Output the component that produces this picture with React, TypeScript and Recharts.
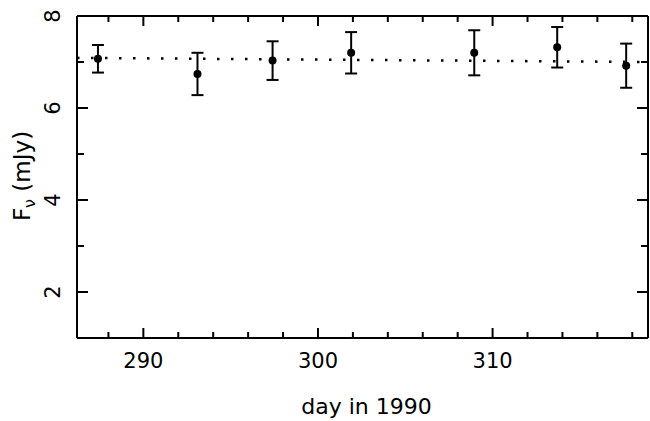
import React from 'react';
import { ComposedChart, Scatter, Line, XAxis, YAxis, ErrorBar } from 'recharts';

const days = [287.4, 293.1, 297.4, 301.9, 308.95, 313.7, 317.65];
const flux = [7.07, 6.74, 7.03, 7.2, 7.2, 7.32, 6.92];
const fluxErr = [0.3, 0.46, 0.42, 0.45, 0.49, 0.44, 0.48];
const fitDays = [286.2, 318.9];
const fitFlux = [7.09, 7.0];
const xTicks = [288, 290, 292, 294, 296, 298, 300, 302, 304, 306, 308, 310, 312, 314, 316, 318];
const xLabeled = [290, 300, 310];
const yTicks = [2, 3, 4, 5, 6, 7, 8];
const yLabeled = [2, 4, 6, 8];

const pointData = days.map((d, i) => ({ day: d, flux: flux[i], err: fluxErr[i] }));
const fitData = fitDays.map((d, i) => ({ day: d, fit: fitFlux[i] }));

const FONT = 'DejaVu Sans';

const BottomTick = (props: any) => {
  const { x, y, payload } = props;
  const major = xLabeled.includes(payload.value);
  return (
    <g>
      <line x1={x} x2={x} y1={y} y2={y - (major ? 10 : 6)} stroke="#000" strokeWidth={2} />
      {major && (
        <text x={x} y={y + 30} textAnchor="middle" fontSize={21} fontFamily={FONT} fill="#000">
          {payload.value}
        </text>
      )}
    </g>
  );
};

const TopTick = (props: any) => {
  const { x, y, payload } = props;
  const major = xLabeled.includes(payload.value);
  return <line x1={x} x2={x} y1={y} y2={y + (major ? 10 : 6)} stroke="#000" strokeWidth={2} />;
};

const LeftTick = (props: any) => {
  const { x, y, payload } = props;
  const major = yLabeled.includes(payload.value);
  return (
    <g>
      <line x1={x} x2={x + (major ? 11 : 7)} y1={y} y2={y} stroke="#000" strokeWidth={2} />
      {major && (
        <g transform={`translate(53 ${y}) rotate(-90)`}>
          <text x={0} y={7} textAnchor="middle" fontSize={21} fontFamily={FONT} fill="#000">
            {payload.value}
          </text>
        </g>
      )}
    </g>
  );
};

const RightTick = (props: any) => {
  const { x, y, payload } = props;
  const major = yLabeled.includes(payload.value);
  return <line x1={x} x2={x - (major ? 11 : 7)} y1={y} y2={y} stroke="#000" strokeWidth={2} />;
};

const PointShape = (props: any) => <circle cx={props.cx} cy={props.cy} r={4} fill="#000" />;

const XLabel = (props: any) => {
  const vb = props.viewBox || {};
  const cx = vb.x + vb.width / 2 + 4;
  return (
    <text x={cx} y={vb.y + 76} textAnchor="middle" fontSize={22} fontFamily={FONT} fill="#000">
      day in 1990
    </text>
  );
};

const YLabel = () => {
  const cy = 176;
  return (
    <g transform={`translate(22 ${cy}) rotate(-90)`}>
      <text x={0} y={8} textAnchor="middle" fontSize={23} fontFamily={FONT} fill="#000">
        F
        <tspan fontSize={16} dy={5}>ν</tspan>
        <tspan dy={-5}> (mJy)</tspan>
      </text>
    </g>
  );
};

export default function App() {
  const axisLine = { stroke: '#000', strokeWidth: 2 };
  return (
    <div style={{ position: 'absolute', left: 0, top: 0, background: '#fff' }}>
      <ComposedChart width={650} height={421} margin={{ top: 15, right: 1, bottom: 0, left: 0 }}>
        <XAxis
          xAxisId="b"
          dataKey="day"
          type="number"
          domain={[286.2, 318.9]}
          allowDataOverflow
          ticks={xTicks}
          interval={0}
          tickLine={false}
          tickSize={0}
          tickMargin={0}
          height={83}
          axisLine={axisLine}
          tick={BottomTick}
          label={{ content: XLabel }}
        />
        <XAxis
          xAxisId="t"
          orientation="top"
          dataKey="day"
          type="number"
          domain={[286.2, 318.9]}
          allowDataOverflow
          ticks={xTicks}
          interval={0}
          tickLine={false}
          tickSize={0}
          tickMargin={0}
          height={1}
          axisLine={axisLine}
          tick={TopTick}
        />
        <YAxis
          yAxisId="l"
          type="number"
          domain={[1, 8]}
          allowDataOverflow
          ticks={yTicks}
          interval={0}
          tickLine={false}
          tickSize={0}
          tickMargin={0}
          width={77}
          axisLine={axisLine}
          tick={LeftTick}
          label={{ content: YLabel }}
        />
        <YAxis
          yAxisId="r"
          orientation="right"
          type="number"
          domain={[1, 8]}
          allowDataOverflow
          ticks={yTicks}
          interval={0}
          tickLine={false}
          tickSize={0}
          tickMargin={0}
          width={1}
          axisLine={axisLine}
          tick={RightTick}
        />
        <Line
          data={fitData}
          dataKey="fit"
          xAxisId="b"
          yAxisId="l"
          type="linear"
          stroke="#000"
          strokeWidth={2.5}
          strokeDasharray="2.5 11.5"
          dot={false}
          activeDot={false}
          isAnimationActive={false}
        />
        <Scatter
          data={pointData}
          dataKey="flux"
          xAxisId="b"
          yAxisId="l"
          shape={PointShape}
          isAnimationActive={false}
        >
          <ErrorBar dataKey="err" direction="y" width={6} stroke="#000" strokeWidth={2} />
        </Scatter>
      </ComposedChart>
    </div>
  );
}
